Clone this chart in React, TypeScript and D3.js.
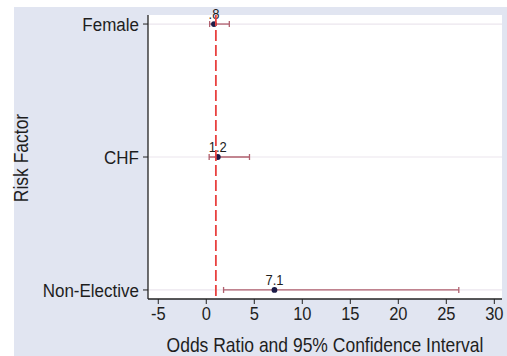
import React from "react";
import * as d3 from "d3";

// Odds ratios with 95% confidence intervals per risk factor
const factors = ["Female", "CHF", "Non-Elective"];
const oddsRatio = [0.8, 1.2, 7.1];
const ciLow = [0.35, 0.3, 1.8];
const ciHigh = [2.4, 4.5, 26.3];
const pointLabels = [".8", "1.2", "7.1"];
const xTicks = [-5, 0, 5, 10, 15, 20, 25, 30];
const referenceOR = 1;

const W = 507;
const H = 356;
const plot = { left: 148, right: 502, top: 15, bottom: 299 };
const font = "'Liberation Sans', Arial, Helvetica, sans-serif";
const textColor = "#1e1e1e";
const stretch = 1.13; // text is drawn slightly taller than wide

// Text anchored at (x, y) and stretched vertically about its baseline
function Label(props: {
  x: number;
  y: number;
  size: number;
  anchor: string;
  rotate?: number;
  dy?: string;
  children: React.ReactNode;
}) {
  const { x, y, size, anchor, rotate = 0, dy, children } = props;
  return (
    <text
      transform={`translate(${x}, ${y}) rotate(${rotate}) scale(1, ${stretch})`}
      textAnchor={anchor}
      fontSize={size}
      dy={dy}
      fill={textColor}
    >
      {children}
    </text>
  );
}

export default function App() {
  const x = d3.scaleLinear().domain([-6.07, 30.8]).range([plot.left, plot.right]);
  const y = d3
    .scaleLinear()
    .domain([-0.068, factors.length - 1 + 0.068])
    .range([plot.top, plot.bottom]);

  return (
    <svg
      width={W}
      height={H}
      style={{ position: "absolute", left: 0, top: 0, display: "block" }}
      fontFamily={font}
    >
      <rect x={0} y={0} width={W} height={H} fill="#ffffff" />
      <rect x={14} y={7} width={W - 14} height={H - 7} fill="#e1e5f1" />
      <rect
        x={plot.left}
        y={plot.top}
        width={plot.right - plot.left}
        height={plot.bottom - plot.top}
        fill="#ffffff"
      />

      {/* category gridlines */}
      {factors.map((f, i) => (
        <line
          key={"g" + f}
          x1={plot.left}
          x2={plot.right}
          y1={y(i)}
          y2={y(i)}
          stroke="#ebe6ee"
          strokeWidth={1.2}
        />
      ))}

      {/* confidence intervals */}
      {factors.map((f, i) => (
        <g key={"ci" + f} stroke="#b0606e" strokeWidth={1.3}>
          <line x1={x(ciLow[i])} x2={x(ciHigh[i])} y1={y(i)} y2={y(i)} />
          <line x1={x(ciLow[i])} x2={x(ciLow[i])} y1={y(i) - 3} y2={y(i) + 3} />
          <line x1={x(ciHigh[i])} x2={x(ciHigh[i])} y1={y(i) - 3} y2={y(i) + 3} />
        </g>
      ))}

      {/* point estimates and their labels */}
      {factors.map((f, i) => (
        <g key={"pt" + f}>
          <circle cx={x(oddsRatio[i])} cy={y(i)} r={2.9} fill="#1c1c48" />
          <Label x={x(oddsRatio[i])} y={y(i) - 5} size={13} anchor="middle">
            {pointLabels[i]}
          </Label>
        </g>
      ))}

      {/* reference line at OR = 1 */}
      <line
        x1={x(referenceOR)}
        x2={x(referenceOR)}
        y1={plot.top}
        y2={plot.bottom}
        stroke="#e8413f"
        strokeWidth={1.8}
        strokeDasharray="11 4"
      />

      {/* y axis */}
      <line x1={plot.left} x2={plot.left} y1={plot.top} y2={plot.bottom} stroke="#222" strokeWidth={1.3} />
      {factors.map((f, i) => (
        <g key={"yt" + f}>
          <line x1={plot.left - 5} x2={plot.left} y1={y(i)} y2={y(i)} stroke="#222" strokeWidth={1} />
          <Label x={plot.left - 9} y={y(i) + 7} size={17} anchor="end">
            {f}
          </Label>
        </g>
      ))}
      <Label x={28} y={(plot.top + plot.bottom) / 2 + 1} size={17.5} anchor="middle" rotate={-90}>
        Risk Factor
      </Label>

      {/* x axis */}
      <line x1={plot.left} x2={plot.right} y1={plot.bottom} y2={plot.bottom} stroke="#222" strokeWidth={1.3} />
      {xTicks.map((t) => (
        <g key={"xt" + t}>
          <line x1={x(t)} x2={x(t)} y1={plot.bottom} y2={plot.bottom + 5} stroke="#222" strokeWidth={1} />
          <Label x={x(t)} y={plot.bottom + 21} size={16.5} anchor="middle">
            {t}
          </Label>
        </g>
      ))}
      <Label x={(158 + 492) / 2} y={352} size={17.5} anchor="middle">
        Odds Ratio and 95% Confidence Interval
      </Label>
    </svg>
  );
}
